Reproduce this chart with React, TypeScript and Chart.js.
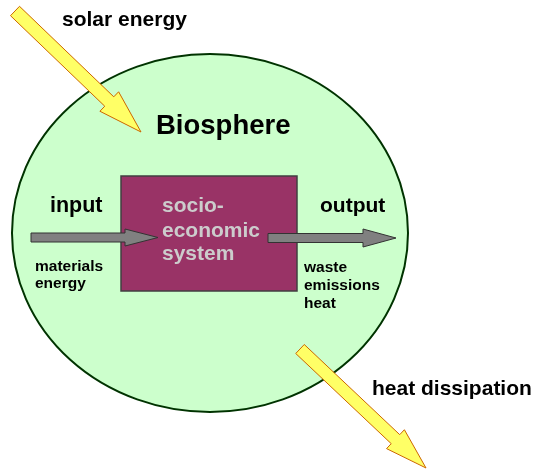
import { useEffect, useRef } from "react";
import { Chart, registerables } from "chart.js";

Chart.register(...registerables);

// Diagram geometry (in diagram units = pixels of a 534x470 area)
const biosphereEllipse = [210, 233, 198, 179]; // cx, cy, rx, ry
const systemBox = [121, 176, 297, 291]; // x1, y1, x2, y2

const arrowNames = ["solar energy", "heat dissipation", "input", "output"];
const arrowTailX = [15, 300, 31, 268];
const arrowTailY = [11, 349, 237.5, 238];
const arrowTipX = [141, 426, 158, 396];
const arrowTipY = [132, 468, 237.5, 238];
const arrowShaftHalf = [6.5, 6.2, 4.5, 4.5];
const arrowHeadHalf = [13.5, 13, 8.5, 9];
const arrowHeadLen = [44, 42, 33, 33];
const arrowKind = ["yellow", "yellow", "gray", "gray"];

const labelTexts = [
  "solar energy",
  "Biosphere",
  "heat dissipation",
  "input",
  "output",
  "materials",
  "energy",
  "waste",
  "emissions",
  "heat",
  "socio-",
  "economic",
  "system",
];
const labelX = [62, 156, 372, 50, 320, 35, 35, 304, 304, 304, 162, 162, 162];
const labelY = [26, 134, 395, 212, 212, 271, 288, 272, 290, 308, 212, 237, 260];
const labelSize = [21, 27.5, 21, 21.5, 21, 15.5, 15.5, 15.5, 15.5, 15.5, 21, 21, 21];
const labelLight = [false, false, false, false, false, false, false, false, false, false, true, true, true];

const FONT = '"Liberation Sans", Arial, Helvetica, sans-serif';

const diagramPlugin = {
  id: "diagram",
  afterDatasetsDraw(chart: any) {
    const ctx: CanvasRenderingContext2D = chart.ctx;
    const xs = chart.scales.x;
    const ys = chart.scales.y;
    const px = (v: number) => xs.getPixelForValue(v);
    const py = (v: number) => ys.getPixelForValue(v);
    const sx = (d: number) => Math.abs(px(d) - px(0));
    const sy = (d: number) => Math.abs(py(d) - py(0));

    ctx.save();

    // Biosphere ellipse
    const [cx, cy, rx, ry] = biosphereEllipse;
    ctx.beginPath();
    ctx.ellipse(px(cx), py(cy), sx(rx), sy(ry), 0, 0, Math.PI * 2);
    ctx.fillStyle = "#ccffcc";
    ctx.fill();
    ctx.lineWidth = 2;
    ctx.strokeStyle = "#003300";
    ctx.stroke();

    const drawArrow = (i: number) => {
      const tx = px(arrowTailX[i]);
      const ty = py(arrowTailY[i]);
      const hx = px(arrowTipX[i]);
      const hy = py(arrowTipY[i]);
      const dx = hx - tx;
      const dy = hy - ty;
      const len = Math.hypot(dx, dy);
      const ux = dx / len;
      const uy = dy / len;
      const nx = -uy;
      const ny = ux;
      const sw = sx(arrowShaftHalf[i]);
      const hw = sx(arrowHeadHalf[i]);
      const hl = sx(arrowHeadLen[i]);
      const bx = hx - ux * hl;
      const by = hy - uy * hl;
      ctx.beginPath();
      ctx.moveTo(tx + nx * sw, ty + ny * sw);
      ctx.lineTo(bx + nx * sw, by + ny * sw);
      ctx.lineTo(bx + nx * hw, by + ny * hw);
      ctx.lineTo(hx, hy);
      ctx.lineTo(bx - nx * hw, by - ny * hw);
      ctx.lineTo(bx - nx * sw, by - ny * sw);
      ctx.lineTo(tx - nx * sw, ty - ny * sw);
      ctx.closePath();
      if (arrowKind[i] === "yellow") {
        ctx.fillStyle = "#ffff66";
        ctx.strokeStyle = "#cc6600";
        ctx.lineWidth = 1;
      } else {
        ctx.fillStyle = "#808080";
        ctx.strokeStyle = "#333333";
        ctx.lineWidth = 1;
      }
      ctx.lineJoin = "miter";
      ctx.fill();
      ctx.stroke();
    };

    // socio-economic system box
    const [x1, y1, x2, y2] = systemBox;
    ctx.fillStyle = "#993366";
    ctx.fillRect(px(x1), py(y1), px(x2) - px(x1), py(y2) - py(y1));
    ctx.lineWidth = 1.5;
    ctx.strokeStyle = "#404040";
    ctx.strokeRect(px(x1), py(y1), px(x2) - px(x1), py(y2) - py(y1));

    arrowNames.forEach((_, i) => drawArrow(i));

    // labels
    ctx.textAlign = "left";
    ctx.textBaseline = "alphabetic";
    labelTexts.forEach((t, i) => {
      ctx.font = `bold ${labelSize[i]}px ${FONT}`;
      ctx.fillStyle = labelLight[i] ? "#cccccc" : "#000000";
      ctx.fillText(t, px(labelX[i]), py(labelY[i]));
    });

    ctx.restore();
  },
};

export default function App() {
  const canvasRef = useRef<HTMLCanvasElement | null>(null);

  useEffect(() => {
    document.body.style.margin = "0";
    document.body.style.background = "#ffffff";
    const canvas = canvasRef.current;
    if (!canvas) return;
    const chart = new Chart(canvas, {
      type: "scatter",
      data: {
        datasets: [
          {
            label: "arrow tips",
            data: arrowTipX.map((x, i) => ({ x, y: arrowTipY[i] })),
            pointRadius: 0,
            showLine: false,
          },
        ],
      },
      options: {
        animation: false,
        responsive: false,
        maintainAspectRatio: false,
        devicePixelRatio: 1,
        layout: { padding: 0 },
        events: [],
        plugins: {
          legend: { display: false },
          tooltip: { enabled: false },
          title: { display: false },
        },
        scales: {
          x: { type: "linear", min: 0, max: 534, display: false },
          y: { type: "linear", min: 0, max: 470, reverse: true, display: false },
        },
      },
      plugins: [diagramPlugin],
    });
    return () => chart.destroy();
  }, []);

  return (
    <div style={{ width: 534, height: 470, background: "#ffffff" }}>
      <canvas ref={canvasRef} width={534} height={470} />
    </div>
  );
}
